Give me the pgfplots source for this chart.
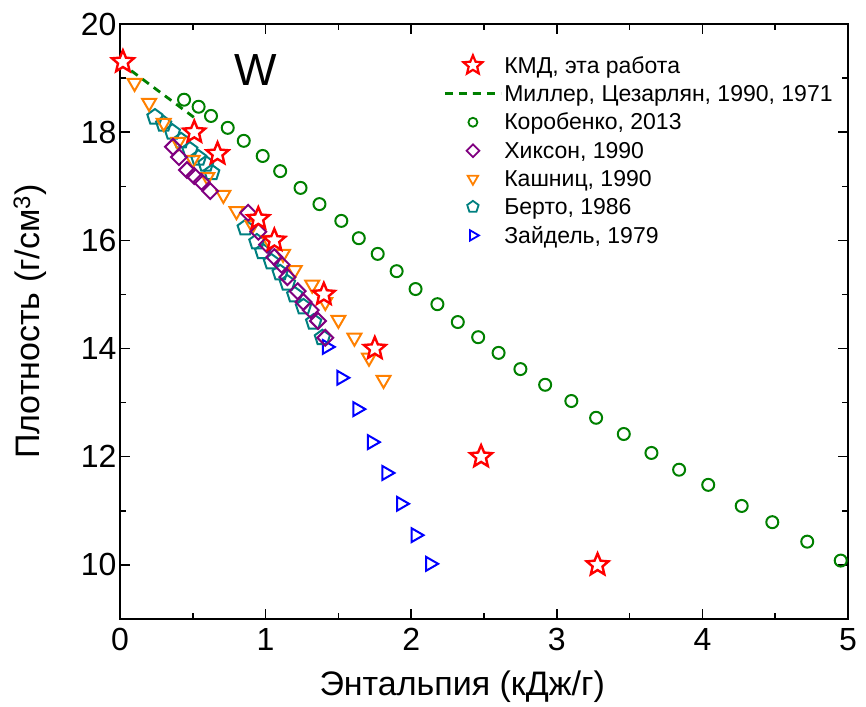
\documentclass[border=0pt]{standalone}
\usepackage{pgfplots}
\pgfplotsset{compat=1.18}
\usepackage{fontspec}
\setmainfont{Liberation Sans}
\usetikzlibrary{plotmarks}
\definecolor{cRed}{RGB}{255,0,0}
\definecolor{cGreen}{RGB}{0,128,0}
\definecolor{cPurple}{RGB}{128,0,128}
\definecolor{cOrange}{RGB}{255,128,0}
\definecolor{cTeal}{RGB}{0,128,128}
\definecolor{cBlue}{RGB}{0,0,255}
\pgfdeclareplotmark{ostar}{%
  \pgfpathmoveto{\pgfpointpolar{90}{\pgfplotmarksize}}%
  \pgfpathlineto{\pgfpointpolar{126}{0.45*\pgfplotmarksize}}%
  \pgfpathlineto{\pgfpointpolar{162}{\pgfplotmarksize}}%
  \pgfpathlineto{\pgfpointpolar{198}{0.45*\pgfplotmarksize}}%
  \pgfpathlineto{\pgfpointpolar{234}{\pgfplotmarksize}}%
  \pgfpathlineto{\pgfpointpolar{270}{0.45*\pgfplotmarksize}}%
  \pgfpathlineto{\pgfpointpolar{306}{\pgfplotmarksize}}%
  \pgfpathlineto{\pgfpointpolar{342}{0.45*\pgfplotmarksize}}%
  \pgfpathlineto{\pgfpointpolar{18}{\pgfplotmarksize}}%
  \pgfpathlineto{\pgfpointpolar{54}{0.45*\pgfplotmarksize}}%
  \pgfpathclose
  \pgfusepathqfillstroke}
\pgfplotsset{mylegend/.style={legend image code/.code={\draw[mark repeat=2,mark phase=2,##1] plot coordinates {(0pt,0pt)(28pt,0pt)(56pt,0pt)};}}}
\begin{document}
\begin{tikzpicture}
\begin{axis}[
  scale only axis, width=728pt, height=595pt,
  xmin=0, xmax=5, ymin=9, ymax=20,
  xtick={0,1,2,3,4,5}, ytick={10,12,14,16,18,20},
  minor xtick={0.5,1.5,2.5,3.5,4.5}, minor ytick={9,11,13,15,17,19},
  tick align=inside, xtick pos=both, ytick pos=both,
  major tick length=10pt, minor tick length=6pt,
  tick style={black, line width=1.5pt},
  axis line style={line width=1.6pt},
  ticklabel style={font=\fontsize{32}{36}\selectfont},
  xticklabel style={yshift=-6pt},
  /pgf/number format/assume math mode=true,
  xlabel={Энтальпия (кДж/г)},
  ylabel={Плотность (г/см\textsuperscript{3})},
  label style={font=\fontsize{34}{40}\selectfont},
  xlabel style={at={(axis description cs:0.47,-0.113)}, anchor=center},
  ylabel style={at={(axis description cs:-0.124,0.5)}, anchor=center},
  legend style={at={(axis description cs:0.44,0.953)}, anchor=north west, draw=none, fill=none,
    font=\fontsize{23}{27}\selectfont, row sep=6.5pt},
  legend cell align=left,
]
% z-order: bottom to top
\addplot[forget plot, only marks, color=cBlue, mark=triangle, mark size=8pt, line width=2pt, mark options={rotate=-90}] coordinates {
(1.42,14.03) (1.52,13.46) (1.63,12.88) (1.73,12.27) (1.83,11.70) (1.93,11.13) (2.03,10.55) (2.13,10.02)};
\addplot[forget plot, only marks, color=cTeal, mark=pentagon, mark size=8pt, line width=2pt] coordinates {
(0.24,18.28) (0.30,18.15) (0.36,18.00) (0.42,17.84) (0.48,17.67) (0.54,17.52) (0.59,17.41) (0.63,17.25)
(0.86,16.23) (0.94,15.97) (0.98,15.79) (1.04,15.60) (1.10,15.40) (1.15,15.21) (1.20,14.99) (1.26,14.77) (1.33,14.49) (1.39,14.20)};
\addplot[forget plot, only marks, color=cOrange, mark=triangle, mark size=8pt, line width=2pt, mark options={rotate=180}] coordinates {
(0.10,18.91) (0.20,18.54) (0.30,18.17) (0.40,17.82) (0.50,17.49) (0.60,17.17) (0.71,16.84) (0.80,16.54) (0.91,16.28) (1.02,16.01)
(1.12,15.75) (1.20,15.45) (1.32,15.18) (1.41,14.86) (1.50,14.53) (1.61,14.20) (1.71,13.83) (1.81,13.42)};
\addplot[forget plot, only marks, color=cPurple, mark=square, mark size=5.6pt, line width=2pt, mark options={rotate=45}] coordinates {
(0.364,17.73) (0.405,17.54) (0.46,17.30) (0.51,17.19) (0.56,17.08) (0.62,16.91)
(0.88,16.51) (0.95,16.16) (1.01,15.92) (1.06,15.69) (1.11,15.55) (1.15,15.32) (1.22,15.06) (1.26,14.86) (1.31,14.71) (1.36,14.51) (1.41,14.20)};
\addplot[forget plot, color=cGreen, line width=2.8pt, dash pattern=on 8pt off 6pt] coordinates {
(0,19.29) (0.1,19.09) (0.2,18.89) (0.3,18.69) (0.4,18.49) (0.52,18.25)};
\addplot[forget plot, only marks, color=cGreen, mark=o, mark size=6pt, line width=2pt] coordinates {
(0.44,18.60) (0.54,18.47) (0.625,18.30) (0.74,18.08) (0.85,17.84) (0.98,17.56) (1.10,17.28) (1.24,16.97) (1.37,16.67) (1.52,16.36)
(1.64,16.04) (1.77,15.75) (1.90,15.43) (2.03,15.10) (2.18,14.82) (2.32,14.49) (2.46,14.21) (2.60,13.92) (2.75,13.62) (2.92,13.33)
(3.10,13.03) (3.27,12.72) (3.46,12.42) (3.65,12.07) (3.84,11.76) (4.04,11.48) (4.27,11.09) (4.48,10.79) (4.72,10.43) (4.95,10.08)};
\addplot[forget plot, only marks, color=cRed, mark=ostar, mark size=11.5pt, line width=2.4pt, mark options={fill=white}] coordinates {
(0.02,19.3) (0.51,18.0) (0.67,17.6) (0.95,16.4) (1.06,16.0) (1.40,15.0) (1.75,14.0) (2.48,12.0) (3.28,10.0)};
% legend
\addlegendimage{only marks, color=cRed, mark=ostar, mark size=10pt, line width=2.2pt, mark options={fill=white}, mylegend}
\addlegendentry{КМД, эта работа}
\addlegendimage{color=cGreen, line width=2.8pt, dash pattern=on 8pt off 6pt, mylegend}
\addlegendentry{Миллер, Цезарлян, 1990, 1971}
\addlegendimage{only marks, color=cGreen, mark=o, mark size=4.5pt, line width=1.8pt, mylegend}
\addlegendentry{Коробенко, 2013}
\addlegendimage{only marks, color=cPurple, mark=square, mark size=4.5pt, line width=1.8pt, mark options={rotate=45}, mylegend}
\addlegendentry{Хиксон, 1990}
\addlegendimage{only marks, color=cOrange, mark=triangle, mark size=6pt, line width=1.8pt, mark options={rotate=180}, mylegend}
\addlegendentry{Кашниц, 1990}
\addlegendimage{only marks, color=cTeal, mark=pentagon, mark size=6pt, line width=1.8pt, mylegend}
\addlegendentry{Берто, 1986}
\addlegendimage{only marks, color=cBlue, mark=triangle, mark size=6pt, line width=1.8pt, mark options={rotate=-90}, mylegend}
\addlegendentry{Зайдель, 1979}
\node[font=\fontsize{45}{50}\selectfont] at (axis cs:0.93,19.15) {W};
\end{axis}
\pgfresetboundingbox
\useasboundingbox (-120pt,-87pt) rectangle (746pt,619pt);
\end{tikzpicture}
\end{document}
